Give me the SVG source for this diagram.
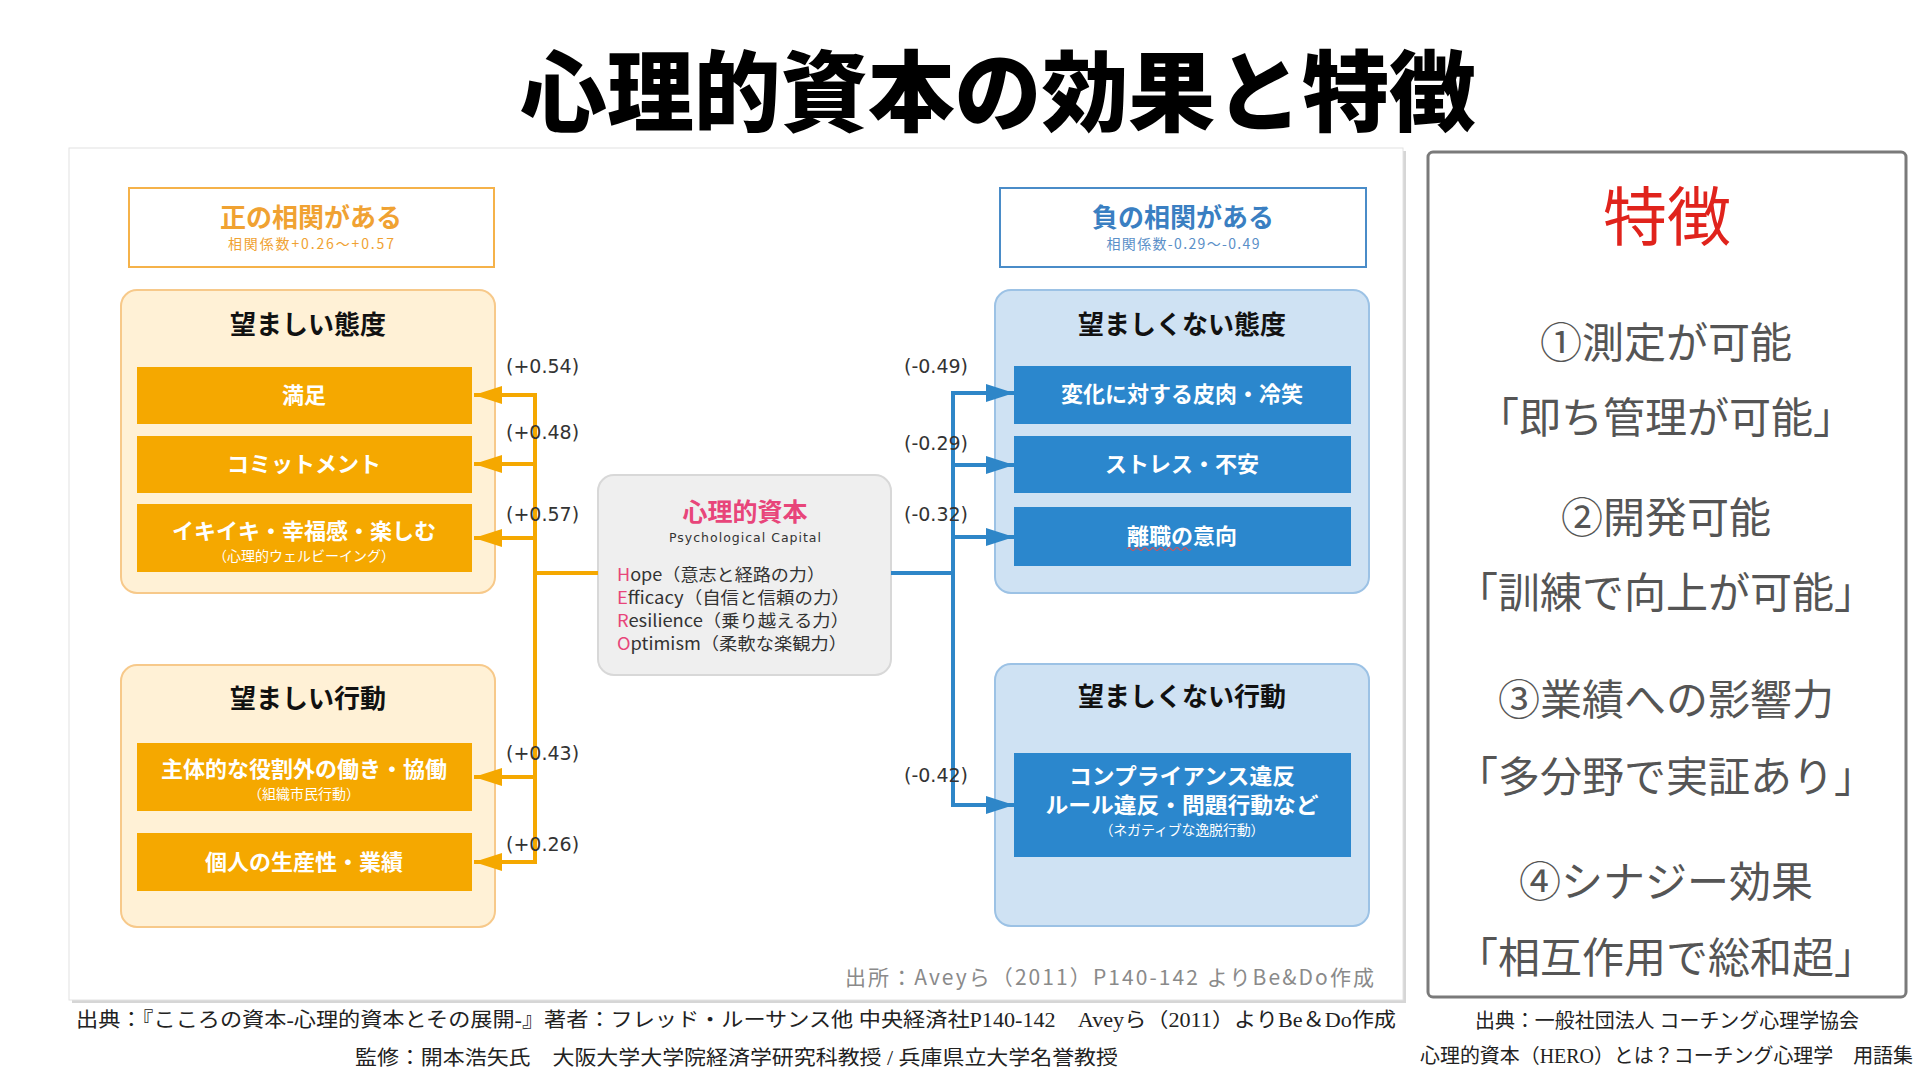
<svg xmlns="http://www.w3.org/2000/svg" width="1920" height="1080" viewBox="0 0 1920 1080">
<defs>
<style>
.jp{font-family:"Noto Sans CJK JP","Noto Sans",sans-serif}
.title{font-family:"Noto Sans CJK JP",sans-serif;font-weight:900;font-size:88px;fill:#000}
.hdrO{font-weight:700;font-size:26px;fill:#F0A232}
.hdrOs{font-size:14px;fill:#F0A232}
.hdrB{font-weight:700;font-size:26px;fill:#3A7FC2}
.hdrBs{font-size:14px;fill:#5A8FC8}
.gt{font-weight:700;font-size:26px;fill:#111}
.bt{font-weight:700;font-size:22px;fill:#fff}
.bs{font-size:14px;fill:#fff}
.lbl{font-family:"DejaVu Sans",sans-serif;font-size:19px;fill:#333}
.feat{font-family:"Noto Sans CJK JP",sans-serif;font-size:42px;fill:#555}
.cap{font-family:"Liberation Serif","Noto Sans CJK JP",serif;font-size:20px;fill:#222}
.gO{fill:#FFF1D6;stroke:#F7C98A;stroke-width:2}
.gB{fill:#CFE2F3;stroke:#9CC2E5;stroke-width:2}
.bO{fill:#F5A800}
.bB{fill:#2B87CD}
.lnO{fill:none;stroke:#F5A800;stroke-width:4}
.lnB{fill:none;stroke:#2E86C8;stroke-width:4}
</style>
<marker id="arO" markerUnits="userSpaceOnUse" markerWidth="28" markerHeight="18" refX="28" refY="9" orient="auto">
<path d="M0,0 L28,9 L0,18 Z" fill="#F5A800"/>
</marker>
<marker id="arB" markerUnits="userSpaceOnUse" markerWidth="28" markerHeight="18" refX="28" refY="9" orient="auto">
<path d="M0,0 L28,9 L0,18 Z" fill="#2E86C8"/>
</marker>
</defs>
<rect width="1920" height="1080" fill="#fff"/>

<text class="title" x="998" y="124" text-anchor="middle" textLength="956" lengthAdjust="spacingAndGlyphs">心理的資本の効果と特徴</text>

<!-- diagram panel -->
<rect x="72" y="151" width="1334" height="852" fill="#d6d6d6"/>
<rect x="69" y="148" width="1334" height="852" fill="#fff" stroke="#e2e2e2" stroke-width="1"/>

<g id="hdr-pos">
<rect x="129" y="188" width="365" height="79" fill="#fff" stroke="#F5B24A" stroke-width="2"/>
<text class="jp hdrO" x="311" y="227" text-anchor="middle">正の相関がある</text>
<text class="jp hdrOs" x="311" y="249" text-anchor="middle" textLength="166">相関係数+0.26〜+0.57</text>
</g>

<g id="hdr-neg">
<rect x="1000" y="188" width="366" height="79" fill="#fff" stroke="#4A8CC8" stroke-width="2"/>
<text class="jp hdrB" x="1183" y="227" text-anchor="middle">負の相関がある</text>
<text class="jp hdrBs" x="1183" y="249" text-anchor="middle" textLength="153">相関係数-0.29〜-0.49</text>
</g>

<g id="grp-attitude">
<rect class="gO" x="121" y="290" width="374" height="303" rx="16"/>
<text class="jp gt" x="308" y="334" text-anchor="middle">望ましい態度</text>
</g>
<g id="n-satisfaction">
<rect class="bO" x="137" y="367" width="335" height="57"/>
<text class="jp bt" x="304" y="403" text-anchor="middle">満足</text>
</g>
<g id="n-commitment">
<rect class="bO" x="137" y="436" width="335" height="57"/>
<text class="jp bt" x="304" y="472" text-anchor="middle">コミットメント</text>
</g>
<g id="n-wellbeing">
<rect class="bO" x="137" y="504" width="335" height="68"/>
<text class="jp bt" x="304" y="539" text-anchor="middle">イキイキ・幸福感・楽しむ</text>
<text class="jp bs" x="304" y="561" text-anchor="middle">（心理的ウェルビーイング）</text>
</g>

<g id="grp-behavior">
<rect class="gO" x="121" y="665" width="374" height="262" rx="16"/>
<text class="jp gt" x="308" y="708" text-anchor="middle">望ましい行動</text>
</g>
<g id="n-ocb">
<rect class="bO" x="137" y="743" width="335" height="68"/>
<text class="jp bt" x="304" y="777" text-anchor="middle">主体的な役割外の働き・協働</text>
<text class="jp bs" x="304" y="799" text-anchor="middle">（組織市民行動）</text>
</g>
<g id="n-performance">
<rect class="bO" x="137" y="833" width="335" height="58"/>
<text class="jp bt" x="304" y="870" text-anchor="middle">個人の生産性・業績</text>
</g>

<g id="n-psycap">
<rect x="598" y="475" width="293" height="200" rx="16" fill="#EFEFEF" stroke="#D8D8D8" stroke-width="2"/>
<text class="jp" x="745" y="521" text-anchor="middle" font-size="25" font-weight="700" fill="#E8457A">心理的資本</text>
<text x="745" y="542" text-anchor="middle" font-family="DejaVu Sans,sans-serif" font-size="12.5" fill="#333" textLength="152">Psychological Capital</text>
<g class="jp" font-size="17" fill="#333">
<text x="617" y="581" textLength="208" lengthAdjust="spacingAndGlyphs"><tspan fill="#E8457A">H</tspan>ope（意志と経路の力）</text>
<text x="617" y="604" textLength="233" lengthAdjust="spacingAndGlyphs"><tspan fill="#E8457A">E</tspan>fficacy（自信と信頼の力）</text>
<text x="617" y="627" textLength="232" lengthAdjust="spacingAndGlyphs"><tspan fill="#E8457A">R</tspan>esilience（乗り越える力）</text>
<text x="617" y="650" textLength="230" lengthAdjust="spacingAndGlyphs"><tspan fill="#E8457A">O</tspan>ptimism（柔軟な楽観力）</text>
</g>
</g>

<g id="grp-neg-attitude">
<rect class="gB" x="995" y="290" width="374" height="303" rx="16"/>
<text class="jp gt" x="1182" y="334" text-anchor="middle">望ましくない態度</text>
</g>
<g id="n-cynicism">
<rect class="bB" x="1014" y="366" width="337" height="58"/>
<text class="jp bt" x="1182" y="402" text-anchor="middle">変化に対する皮肉・冷笑</text>
</g>
<g id="n-stress">
<rect class="bB" x="1014" y="436" width="337" height="57"/>
<text class="jp bt" x="1182" y="472" text-anchor="middle">ストレス・不安</text>
</g>
<g id="n-turnover">
<rect class="bB" x="1014" y="507" width="337" height="59"/>
<text class="jp bt" x="1182" y="544" text-anchor="middle">離職の意向</text>
<path d="M1127,549 q2,-3 4,0 t4,0 t4,0 t4,0 t4,0 t4,0 t4,0 t4,0 t4,0 t4,0 t4,0 t4,0 t4,0 t4,0 t4,0 t4,0" fill="none" stroke="#E05050" stroke-width="1.2"/>
</g>

<g id="grp-neg-behavior">
<rect class="gB" x="995" y="664" width="374" height="262" rx="16"/>
<text class="jp gt" x="1182" y="706" text-anchor="middle">望ましくない行動</text>
</g>
<g id="n-deviance">
<rect class="bB" x="1014" y="753" width="337" height="104"/>
<text class="jp bt" x="1182" y="784" text-anchor="middle" font-size="20" textLength="226" lengthAdjust="spacingAndGlyphs">コンプライアンス違反</text>
<text class="jp bt" x="1182" y="813" text-anchor="middle" font-size="20" textLength="273" lengthAdjust="spacingAndGlyphs">ルール違反・問題行動など</text>
<text class="jp bs" x="1182" y="835" text-anchor="middle" font-size="13" textLength="165">（ネガティブな逸脱行動）</text>
</g>

<g id="connectors">
<path class="lnO" d="M598,573 H535"/>
<path class="lnO" d="M535,393 V864"/>
<path class="lnO" d="M537,395 H474" marker-end="url(#arO)"/>
<path class="lnO" d="M535,464 H474" marker-end="url(#arO)"/>
<path class="lnO" d="M535,538 H474" marker-end="url(#arO)"/>
<path class="lnO" d="M535,777 H474" marker-end="url(#arO)"/>
<path class="lnO" d="M537,862 H474" marker-end="url(#arO)"/>
<path class="lnB" d="M891,573 H953"/>
<path class="lnB" d="M953,391 V807"/>
<path class="lnB" d="M951,393 H1014" marker-end="url(#arB)"/>
<path class="lnB" d="M953,465 H1014" marker-end="url(#arB)"/>
<path class="lnB" d="M953,537 H1014" marker-end="url(#arB)"/>
<path class="lnB" d="M951,805 H1014" marker-end="url(#arB)"/>
<g class="lbl">
<text x="506" y="373">(+0.54)</text>
<text x="506" y="439">(+0.48)</text>
<text x="506" y="521">(+0.57)</text>
<text x="506" y="760">(+0.43)</text>
<text x="506" y="851">(+0.26)</text>
<text x="904" y="373">(-0.49)</text>
<text x="904" y="450">(-0.29)</text>
<text x="904" y="521">(-0.32)</text>
<text x="904" y="782">(-0.42)</text>
</g>
</g>

<text class="jp" x="1374" y="985" text-anchor="end" font-size="21" fill="#8A8A8A" textLength="529">出所：Aveyら（2011）P140-142 よりBe&amp;Do作成</text>

<!-- features panel -->
<g id="features">
<rect x="1428" y="152" width="478" height="845" rx="5" fill="#fff" stroke="#7A7A7A" stroke-width="3"/>
<text x="1667" y="240" text-anchor="middle" font-family="Noto Sans CJK JP,sans-serif" font-size="64" fill="#E0231C">特徴</text>
<text class="feat" x="1666" y="358" text-anchor="middle">①測定が可能</text>
<text class="feat" x="1666" y="433" text-anchor="middle">「即ち管理が可能」</text>
<text class="feat" x="1666" y="533" text-anchor="middle">②開発可能</text>
<text class="feat" x="1666" y="608" text-anchor="middle">「訓練で向上が可能」</text>
<text class="feat" x="1666" y="715" text-anchor="middle">③業績への影響力</text>
<text class="feat" x="1666" y="792" text-anchor="middle">「多分野で実証あり」</text>
<text class="feat" x="1666" y="897" text-anchor="middle">④シナジー効果</text>
<text class="feat" x="1666" y="973" text-anchor="middle">「相互作用で総和超」</text>
</g>

<text class="cap" x="76" y="1027" textLength="1320" lengthAdjust="spacingAndGlyphs">出典：『こころの資本-心理的資本とその展開-』著者：フレッド・ルーサンス他 中央経済社P140-142　Aveyら（2011）よりBe＆Do作成</text>
<text class="cap" x="355" y="1065" textLength="763" lengthAdjust="spacingAndGlyphs">監修：開本浩矢氏　大阪大学大学院経済学研究科教授 / 兵庫県立大学名誉教授</text>
<text class="cap" x="1475" y="1028" font-size="19" textLength="384" lengthAdjust="spacingAndGlyphs">出典：一般社団法人 コーチング心理学協会</text>
<text class="cap" x="1420" y="1063" font-size="19" textLength="493" lengthAdjust="spacingAndGlyphs">心理的資本（HERO）とは？コーチング心理学　用語集</text>
</svg>
